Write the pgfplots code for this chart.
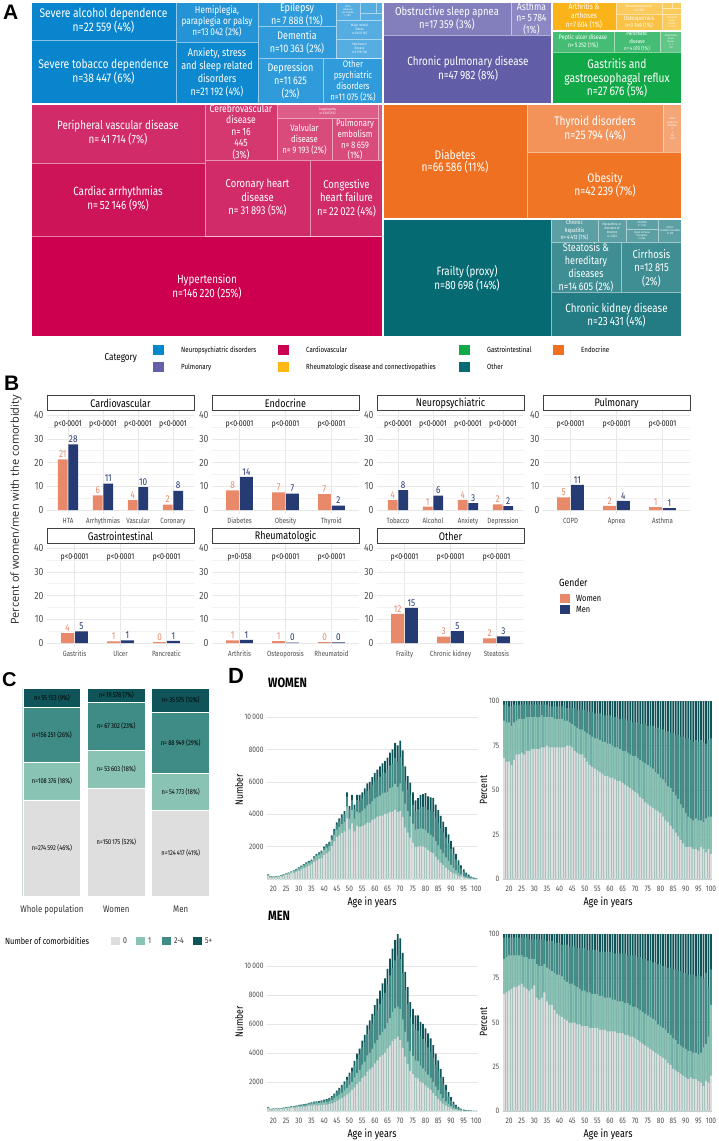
\documentclass[border=0pt]{standalone}
\usepackage{fontspec}
\setmainfont{Fira Sans}[FakeStretch=0.82]
\newfontfamily\labfont{Liberation Sans}
\newfontfamily\osfont{Open Sans}
\usepackage{pgfplots}
\usepackage{pgfplotstable}
\pgfplotsset{compat=1.18}
\pgfplotsset{/pgf/number format/assume math mode=true}
\newcommand\fs[2]{\fontsize{#1}{#2}\selectfont}

\definecolor{cneuro}{HTML}{0088CC}
\definecolor{ccardio}{HTML}{CC0052}
\definecolor{cgastro}{HTML}{12A94A}
\definecolor{cendo}{HTML}{F07020}
\definecolor{cpulm}{HTML}{6360A8}
\definecolor{crheum}{HTML}{FCB814}
\definecolor{cother}{HTML}{066B73}
\definecolor{cwomen}{HTML}{E8896A}
\definecolor{cmen}{HTML}{263A73}
\definecolor{cz}{HTML}{DEDEDE}
\definecolor{co}{HTML}{88C3B4}
\definecolor{ct}{HTML}{3F8B85}
\definecolor{cf}{HTML}{0F5458}
% treemap shades
\definecolor{n1}{HTML}{0985CD}\definecolor{n2}{HTML}{2594D6}\definecolor{n3}{HTML}{0E89CF}
\definecolor{n4}{HTML}{2F9BDA}\definecolor{n5}{HTML}{55ADE1}
\definecolor{k1}{HTML}{CC004E}\definecolor{k2}{HTML}{CE1458}\definecolor{k3}{HTML}{D12C69}
\definecolor{k4}{HTML}{D5376F}\definecolor{k5}{HTML}{D84B7B}\definecolor{k6}{HTML}{DC5E88}
\definecolor{p1}{HTML}{625DA7}\definecolor{p2}{HTML}{837FBD}\definecolor{p3}{HTML}{8C88C3}
\definecolor{r1}{HTML}{FAB41A}\definecolor{r2}{HTML}{FBC248}\definecolor{r3}{HTML}{FCCB5E}
\definecolor{g1}{HTML}{11A847}\definecolor{g2}{HTML}{46BD75}\definecolor{g3}{HTML}{62C689}
\definecolor{e1}{HTML}{EE7020}\definecolor{e2}{HTML}{F07524}\definecolor{e3}{HTML}{F3935A}\definecolor{e4}{HTML}{F5A676}
\definecolor{o1}{HTML}{066A72}\definecolor{o2}{HTML}{237C83}\definecolor{o3}{HTML}{3E8E94}\definecolor{o4}{HTML}{5CA0A5}

\newcommand\tile[5]{\addplot[fill=#1, draw=white, draw opacity=0.5, line width=0.6pt] coordinates {(#2,#3) (#4,#3) (#4,#5) (#2,#5)} -- cycle;}
\newcommand\grp[4]{\addplot[draw=white, line width=2pt] coordinates {(#1,#2) (#3,#2) (#3,#4) (#1,#4)} -- cycle;}
\newcommand\pv[2]{\node[font=\fs{8.5}{9}, text=black!90] at (axis cs:#1,36) {#2};}
% value labels above the women / men bars of category #1
\newcommand\bl[5]{%
  \node[anchor=south, inner sep=1.5pt, text=cwomen, font=\fs{10}{10}] at (axis cs:#1-0.15,#2) {#3};%
  \node[anchor=south, inner sep=1.5pt, text=cmen, font=\fs{10}{10}] at (axis cs:#1+0.15,#4) {#5};}

\pgfplotsset{
 bfac/.style={anchor=south west, scale only axis, width=147pt, height=102.6pt, ymin=-1.5, ymax=41.7,
   xmin=-0.6, xmax=#1, ytick={0,10,20,30,40}, minor ytick={5,15,25,35},
   ymajorgrids, yminorgrids, xmajorgrids,
   major grid style={draw=black!9, line width=0.5pt},
   minor grid style={draw=black!5, line width=0.4pt},
   axis line style={draw=none}, major tick style={draw=none}, minor tick style={draw=none},
   yticklabel style={font=\fs{10.5}{11}, text=black!70},
   xticklabel style={font=\fs{7.5}{8}, text=black!70, yshift=-1pt},
   title style={at={(0.5,1)}, anchor=south, yshift=-6pt, draw=black!75, line width=0.9pt, fill=white,
     minimum width=147pt, minimum height=15pt, inner sep=0pt, font=\fs{11}{11}},
   clip=false},
 wbar/.style={ybar, bar width=0.28, bar shift=-0.15, fill=cwomen, draw=none},
 mbar/.style={ybar, bar width=0.28, bar shift=0.15, fill=cmen, draw=none},
 dax/.style={anchor=south west, scale only axis, xmin=17.5, xmax=100.5, ymin=0,
   xtick={20,25,...,100}, axis line style={draw=none}, major tick style={draw=none},
   scaled y ticks=false, scaled x ticks=false,
   ymajorgrids, major grid style={draw=black!10, line width=0.4pt},
   xticklabel style={font=\fs{8}{8}, text=black!70, yshift=-4pt},
   yticklabel style={font=\fs{8}{8}, text=black!70}, clip=false},
 dbar/.style={ybar, bar width=0.7, bar shift=0pt, draw=none, fill=#1},
 cbar/.style={ybar, bar width=0.9, bar shift=0pt, draw=white, line width=0.8pt, fill=#1}
}

\pgfplotstableread{
age tot f0 f1 f24
18 280 68 89 98
19 160 66 88 98
20 150 66 88 97
21 170 64 86 97
22 200 67 88 98
23 240 70 89 98
24 290 70 90 98
25 340 71 90 98
26 400 70 90 98
27 460 72 91 98
28 530 72 91 98
29 620 73 91 98
30 720 73 91 98
31 820 73 91 98
32 920 73 91 98
33 1020 74 92 98
34 1100 74 91 98
35 1200 75 91 98
36 1400 74 91 97
37 1550 74 91 97
38 1650 74 90 97
39 1750 74 90 97
40 2000 74 90 97
41 2150 74 90 97
42 2300 74 89 97
43 2700 75 89 96
44 3100 75 88 96
45 3500 74 87 96
46 3750 72 86 96
47 4000 71 85 95
48 4200 70 84 95
49 5350 70 84 95
50 4500 68 83 95
51 5200 66 82 94
52 4600 64 81 94
53 5200 63 80 94
54 5200 62 79 93
55 5350 61 79 93
56 5600 60 78 93
57 5900 59 77 92
58 6000 58 77 92
59 6300 58 76 92
60 6550 57 76 92
61 6750 57 75 91
62 6950 56 74 91
63 7150 55 74 91
64 7300 55 73 90
65 7500 54 72 90
66 7800 53 72 90
67 8000 52 71 89
68 8400 51 70 89
69 8250 50 69 88
70 8550 49 69 88
71 7950 48 68 88
72 6950 46 67 87
73 6350 45 66 87
74 5950 43 65 87
75 5350 42 64 86
76 4850 41 63 86
77 5000 40 62 86
78 5200 39 60 85
79 5250 38 59 85
80 5300 37 57 84
81 5100 35 56 84
82 5050 33 54 83
83 5000 32 52 83
84 4600 30 51 82
85 4250 28 49 82
86 3900 26 47 81
87 3550 24 45 81
88 3200 22 42 80
89 2750 20 40 80
90 2350 18 37 79
91 1950 18 35 79
92 1550 18 34 78
93 1150 17 33 77
94 850 17 34 78
95 600 16 33 77
96 400 18 33 78
97 270 17 32 77
98 150 15 34 76
99 90 17 35 78
100 60 14 35 79
}\wdata

\pgfplotstableread{
age tot f0 f1 f24
18 280 66 86 98
19 150 67 87 98
20 160 68 88 98
21 170 69 88 98
22 180 70 88 98
23 200 70 88 98
24 230 71 88 98
25 260 72 88 98
26 290 70 87 98
27 320 69 87 98
28 340 68 86 97
29 370 69 86 97
30 420 71 86 97
31 440 64 83 97
32 470 63 82 97
33 500 64 82 97
34 560 67 83 97
35 600 62 81 96
36 640 60 80 96
37 660 60 79 96
38 690 57 78 95
39 730 55 77 95
40 780 54 77 95
41 820 53 76 94
42 900 52 74 94
43 1030 51 73 94
44 1200 50 72 93
45 1400 50 72 93
46 1600 50 71 93
47 1800 49 70 92
48 2050 49 69 92
49 2350 48 68 92
50 2650 48 68 92
51 3000 48 67 91
52 3450 47 67 91
53 3950 47 66 91
54 4300 47 66 91
55 4850 47 66 91
56 5250 46 65 90
57 5900 46 65 90
58 6250 46 64 90
59 6700 45 64 90
60 7300 45 64 90
61 7750 45 63 90
62 8300 45 63 89
63 8800 44 62 89
64 9150 44 62 89
65 9800 44 62 89
66 10500 43 61 89
67 11200 43 61 88
68 11800 42 60 88
69 12200 42 59 88
70 11900 41 59 88
71 10900 40 58 87
72 9600 39 57 87
73 8550 38 56 86
74 7500 37 55 86
75 7050 36 54 85
76 6600 35 53 85
77 6600 34 52 84
78 6150 33 51 84
79 6000 32 49 83
80 5700 31 48 83
81 5350 30 47 82
82 5000 29 46 82
83 4550 27 44 81
84 3950 26 43 81
85 3500 24 41 80
86 2900 23 40 80
87 2350 22 38 79
88 1800 21 37 79
89 1300 20 36 78
90 950 19 35 78
91 650 18 34 77
92 420 19 34 77
93 280 18 33 77
94 170 18 33 76
95 100 17 32 77
96 60 16 33 76
97 40 14 36 75
98 25 17 38 78
99 15 16 42 70
100 10 20 60 80
}\mdata

\begin{document}
\begin{tikzpicture}[x=1pt,y=1pt, tl/.style={text=white, align=center, inner sep=0pt}]
\useasboundingbox (0,0) rectangle (718,-1141);

% ================= PANEL A : treemap =================
\node[anchor=north west, inner sep=0pt, font=\labfont\bfseries\fs{21}{21}] at (3,-5) {A};
\begin{axis}[at={(31pt,-337pt)}, anchor=south west, scale only axis, width=651pt, height=335pt,
  xmin=31, xmax=682, ymin=2, ymax=337, y dir=reverse, hide axis, clip=false]
% Neuropsychiatric
\tile{n1}{31}{2}{176}{40}
\tile{n1}{31}{40}{176}{103}
\tile{n2}{176}{2}{258}{42}
\tile{n3}{176}{42}{258}{103}
\tile{n4}{258}{2}{336}{26}
\tile{n4}{258}{26}{336}{58}
\tile{n4}{258}{58}{323}{103}
\tile{n4}{323}{58}{383}{103}
\tile{n5}{336}{2}{360}{20}
\tile{n5}{360}{2}{376}{13}
\tile{n5}{376}{2}{383}{13}
\tile{n5}{360}{13}{383}{20}
\tile{n5}{336}{20}{383}{39}
\tile{n5}{336}{39}{383}{58}
% Cardiovascular
\tile{k3}{31}{104}{205}{163}
\tile{k2}{31}{163}{205}{236}
\tile{k1}{31}{236}{383}{337}
\tile{k4}{205}{104}{277}{160}
\tile{k6}{277}{104}{378}{118}
\tile{k5}{277}{118}{332}{160}
\tile{k5}{332}{118}{378}{160}
\tile{k6}{378}{104}{383}{160}
\tile{k3}{205}{160}{310}{236}
\tile{k3}{310}{160}{383}{236}
% Pulmonary
\tile{p2}{383}{2}{511}{35}
\tile{p3}{511}{2}{552}{35}
\tile{p1}{383}{35}{552}{103}
% Rheumatologic
\tile{r1}{552}{2}{616}{31}
\tile{r3}{616}{2}{662}{14}
\tile{r2}{616}{14}{662}{31}
\tile{r3}{662}{2}{672}{8}
\tile{r3}{672}{2}{682}{8}
\tile{r3}{662}{8}{682}{14}
\tile{r3}{662}{14}{682}{31}
% Gastrointestinal
\tile{g2}{552}{31}{614}{52}
\tile{g2}{614}{31}{660}{52}
\tile{g3}{660}{31}{682}{52}
\tile{g1}{552}{52}{682}{103}
% Endocrine
\tile{e1}{383}{104}{527}{219}
\tile{e3}{527}{104}{663}{152}
\tile{e4}{663}{104}{682}{152}
\tile{e2}{527}{152}{682}{219}
% Other
\tile{o1}{383}{219}{551}{337}
\tile{o4}{551}{219}{598}{242}
\tile{o4}{598}{219}{626}{242}
\tile{o4}{626}{219}{658}{229}
\tile{o4}{626}{229}{658}{242}
\tile{o4}{658}{219}{682}{242}
\tile{o3}{551}{242}{621}{292}
\tile{o3}{621}{242}{682}{292}
\tile{o2}{551}{292}{682}{337}
% group borders
\grp{31}{2}{383}{103.5}
\grp{31}{103.5}{383}{337}
\grp{383}{2}{552}{103.5}
\grp{552}{2}{682}{31}
\grp{552}{31}{682}{103.5}
\grp{383}{103.5}{682}{219}
\grp{383}{219}{682}{337}
% labels
\node[tl,font=\fs{12.5}{12.5}] at (axis cs:103.5,21) {Severe alcohol dependence\\n=22\,559 (4\%)};
\node[tl,font=\fs{12.5}{12.5}] at (axis cs:103.5,71.5) {Severe tobacco dependence\\n=38\,447 (6\%)};
\node[tl,font=\fs{10}{11}] at (axis cs:217,21.5) {Hemiplegia,\\paraplegia or palsy\\n=13\,042 (2\%)};
\node[tl,font=\fs{11}{13}] at (axis cs:217,72) {Anxiety, stress\\and sleep related\\disorders\\n=21\,192 (4\%)};
\node[tl,font=\fs{11}{13}] at (axis cs:297,14) {Epilepsy\\n=\,7\,888 (1\%)};
\node[tl,font=\fs{11}{13}] at (axis cs:297,42.5) {Dementia\\n=10\,363 (2\%)};
\node[tl,font=\fs{11}{13}] at (axis cs:290.5,81) {Depression\\n=11\,625\\(2\%)};
\node[tl,font=\fs{9.5}{11}] at (axis cs:353,81.5) {Other\\psychiatric\\disorders\\n=11\,075 (2\%)};
\node[tl,font=\fs{2.6}{3}] at (axis cs:348,11) {Other\\substance\\use disorder\\n=1\,837};
\node[tl,font=\fs{3.4}{4}] at (axis cs:359.5,29.5) {Major mental\\illness\\n=3\,612 (1\%)};
\node[tl,font=\fs{3.4}{4}] at (axis cs:359.5,48.5) {Parkinson's\\disease\\n=3\,739 (1\%)};
\node[tl,font=\fs{12}{12.5}] at (axis cs:118,133) {Peripheral vascular disease\\n=\,41\,714 (7\%)};
\node[tl,font=\fs{12}{12.5}] at (axis cs:118,199) {Cardiac arrhythmias\\n=\,52\,146 (9\%)};
\node[tl,font=\fs{12}{12.5}] at (axis cs:207,286.5) {Hypertension\\n=146\,220 (25\%)};
\node[tl,font=\fs{10.5}{11.5}] at (axis cs:241,132) {Cerebrovascular\\disease\\n=\,16\\445\\(3\%)};
\node[tl,font=\fs{3.4}{4}] at (axis cs:327.5,111) {Coagulopathy\\n=\,6\,025 (1\%)};
\node[tl,font=\fs{9.5}{11}] at (axis cs:304.5,139.5) {Valvular\\disease\\n=\,9\,193 (2\%)};
\node[tl,font=\fs{9.5}{10.7}] at (axis cs:355,140) {Pulmonary\\embolism\\n=\,8\,659\\(1\%)};
\node[tl,font=\fs{11.5}{13.5}] at (axis cs:257.5,198) {Coronary heart\\disease\\n=\,31\,893 (5\%)};
\node[tl,font=\fs{11.5}{13.5}] at (axis cs:346.5,198) {Congestive\\heart failure\\n=\,22\,022 (4\%)};
\node[tl,font=\fs{11.5}{13}] at (axis cs:447,18.5) {Obstructive sleep apnea\\n=17\,359 (3\%)};
\node[tl,font=\fs{10.5}{11.5}] at (axis cs:531.5,18.5) {Asthma\\n=\,5\,784\\(1\%)};
\node[tl,font=\fs{12}{12.5}] at (axis cs:468,69) {Chronic pulmonary disease\\n=47\,982 (8\%)};
\node[tl,font=\fs{8}{9}] at (axis cs:584,16) {Arthritis \&\\arthoses\\n=7\,604 (1\%)};
\node[tl,font=\fs{3.4}{4}] at (axis cs:639,8) {Rheumatoid arthritis\\n=\,2\,329};
\node[tl,font=\fs{6.2}{7.5}] at (axis cs:639,22) {Osteoporosis\\n=3\,149 (1\%)};
\node[tl,font=\fs{2.5}{3}] at (axis cs:672,22.5) {Connective\\tissue\\disease\\n=\,1\,026};
\node[tl,font=\fs{6.5}{8.5}] at (axis cs:583,41.5) {Peptic ulcer disease\\n=\,5\,252 (1\%)};
\node[tl,font=\fs{5.5}{7.5}] at (axis cs:637,41.5) {Pancreatic\\disease\\n=\,4\,070 (1\%)};
\node[tl,font=\fs{2.5}{3}] at (axis cs:671,41.5) {Inflammatory\\bowel\\disease\\n=\,1\\591};
\node[tl,font=\fs{12.5}{13.5}] at (axis cs:617,78.5) {Gastritis and\\gastroesophagal reflux\\n=27\,676 (5\%)};
\node[tl,font=\fs{12.5}{12.7}] at (axis cs:455,161.5) {Diabetes\\n=66\,586 (11\%)};
\node[tl,font=\fs{12.5}{12.7}] at (axis cs:595,128.5) {Thyroid disorders\\n=25\,794 (4\%)};
\node[tl,font=\fs{2.8}{3.3}] at (axis cs:672.5,129) {Other\\endocrine\\disorders\\n=\\3\\676\\(1\%)};
\node[tl,font=\fs{12.5}{13.5}] at (axis cs:605,185) {Obesity\\n=42\,239 (7\%)};
\node[tl,font=\fs{12}{12.5}] at (axis cs:467,278) {Frailty (proxy)\\n=80\,698 (14\%)};
\node[tl,font=\fs{6}{7.5}] at (axis cs:574.5,230.5) {Chronic\\hepatitis\\n=\,4\,413 (1\%)};
\node[tl,font=\fs{3.4}{4}] at (axis cs:612,230.5) {Myopathies, or\\disorders of\\muscles\\n=\,2\,822};
\node[tl,font=\fs{2.8}{3.3}] at (axis cs:642,224) {HIV/AIDS\\n=\,1\,484};
\node[tl,font=\fs{2.8}{3.3}] at (axis cs:642,235.5) {Organ or tissue\\transplant\\n=\,846};
\node[tl,font=\fs{2.8}{3.3}] at (axis cs:670,230.5) {Inborn\\metabolic disorders\\n=\,339};
\node[tl,font=\fs{11}{13}] at (axis cs:586,267.5) {Steatosis \&\\hereditary\\diseases\\n=14\,605 (2\%)};
\node[tl,font=\fs{11.5}{13.5}] at (axis cs:651.5,268) {Cirrhosis\\n=12\,815\\(2\%)};
\node[tl,font=\fs{12}{12.7}] at (axis cs:616.5,315) {Chronic kidney disease\\n=23\,431 (4\%)};
\end{axis}

% legend A
\node[anchor=west, font=\fs{10}{10}] at (101,-358) {Category};
\foreach \c/\x/\y/\t in {cneuro/153/350/Neuropsychiatric disorders, ccardio/278/350/Cardiovascular,
   cgastro/459/350/Gastrointestinal, cendo/553/350/Endocrine, cpulm/153/367/Pulmonary,
   crheum/278/367/Rheumatologic disease and connectivopathies, cother/459/367/Other}{
  \node[anchor=west, inner sep=0pt] at (\x,-\y) {\color{\c}\rule{10.5pt}{10.5pt}};
  \node[anchor=west, inner sep=0pt, font=\fs{7.5}{8}] at (\x+28,-\y) {\t};
}

% ================= PANEL B =================
\node[anchor=north west, inner sep=0pt, font=\labfont\bfseries\fs{21}{21}] at (4,-376) {B};
\node[rotate=90, font=\osfont\fs{11}{11}, text=black!85] at (16,-510) {Percent of women/men with the comorbidity};

\begin{axis}[bfac=3.6, at={(47pt,-513.6pt)}, title={Cardiovascular}, xtick={0,1,2,3}, xticklabels={HTA,Arrhythmias,Vascular,Coronary}]
\addplot[wbar] coordinates {(0,21.3) (1,6.2) (2,4.2) (3,2.3)};
\addplot[mbar] coordinates {(0,27.6) (1,11.1) (2,9.6) (3,8.1)};
\bl{0}{21.3}{21}{27.6}{28}\bl{1}{6.2}{6}{11.1}{11}\bl{2}{4.2}{4}{9.6}{10}\bl{3}{2.3}{2}{8.1}{8}
\pv{0}{p<0·0001}\pv{1}{p<0·0001}\pv{2}{p<0·0001}\pv{3}{p<0·0001}
\end{axis}
\begin{axis}[bfac=2.6, at={(212pt,-513.6pt)}, title={Endocrine}, xtick={0,1,2}, xticklabels={Diabetes,Obesity,Thyroid}]
\addplot[wbar] coordinates {(0,8.3) (1,7.4) (2,6.7)};
\addplot[mbar] coordinates {(0,14.0) (1,6.9) (2,1.9)};
\bl{0}{8.3}{8}{14.0}{14}\bl{1}{7.4}{7}{6.9}{7}\bl{2}{6.7}{7}{1.9}{2}
\pv{0}{p<0·0001}\pv{1}{p<0·0001}\pv{2}{p<0·0001}
\end{axis}
\begin{axis}[bfac=3.6, at={(377pt,-513.6pt)}, title={Neuropsychiatric}, xtick={0,1,2,3}, xticklabels={Tobacco,Alcohol,Anxiety,Depression}]
\addplot[wbar] coordinates {(0,4.2) (1,1.4) (2,4.3) (3,2.4)};
\addplot[mbar] coordinates {(0,8.4) (1,6.1) (2,2.9) (3,1.6)};
\bl{0}{4.2}{4}{8.4}{8}\bl{1}{1.4}{1}{6.1}{6}\bl{2}{4.3}{4}{2.9}{3}\bl{3}{2.4}{2}{1.6}{2}
\pv{0}{p<0·0001}\pv{1}{p<0·0001}\pv{2}{p<0·0001}\pv{3}{p<0·0001}
\end{axis}
\begin{axis}[bfac=2.6, at={(543pt,-513.6pt)}, title={Pulmonary}, xtick={0,1,2}, xticklabels={COPD,Apnea,Asthma}]
\addplot[wbar] coordinates {(0,5.3) (1,1.8) (2,1.2)};
\addplot[mbar] coordinates {(0,10.6) (1,3.9) (2,0.8)};
\bl{0}{5.3}{5}{10.6}{11}\bl{1}{1.8}{2}{3.9}{4}\bl{2}{1.2}{1}{0.8}{1}
\pv{0}{p<0·0001}\pv{1}{p<0·0001}\pv{2}{p<0·0001}
\end{axis}
\begin{axis}[bfac=2.6, at={(47pt,-646.6pt)}, title={Gastrointestinal}, xtick={0,1,2}, xticklabels={Gastritis,Ulcer,Pancreatic}]
\addplot[wbar] coordinates {(0,4.2) (1,0.7) (2,0.4)};
\addplot[mbar] coordinates {(0,4.9) (1,1.1) (2,0.9)};
\bl{0}{4.2}{4}{4.9}{5}\bl{1}{0.7}{1}{1.1}{1}\bl{2}{0.4}{0}{0.9}{1}
\pv{0}{p<0·0001}\pv{1}{p<0·0001}\pv{2}{p<0·0001}
\end{axis}
\begin{axis}[bfac=2.6, at={(212pt,-646.6pt)}, title={Rheumatologic}, xtick={0,1,2}, xticklabels={Arthritis,Osteoporosis,Rheumatoid}]
\addplot[wbar] coordinates {(0,1.1) (1,0.8) (2,0.4)};
\addplot[mbar] coordinates {(0,1.3) (1,0.2) (2,0.3)};
\bl{0}{1.1}{1}{1.3}{1}\bl{1}{0.8}{1}{0.2}{0}\bl{2}{0.4}{0}{0.3}{0}
\pv{0}{p=0·058}\pv{1}{p<0·0001}\pv{2}{p<0·0001}
\end{axis}
\begin{axis}[bfac=2.6, at={(377pt,-646.6pt)}, title={Other}, xtick={0,1,2}, xticklabels={Frailty,Chronic kidney,Steatosis}]
\addplot[wbar] coordinates {(0,12.3) (1,2.7) (2,2.0)};
\addplot[mbar] coordinates {(0,14.8) (1,5.0) (2,2.8)};
\bl{0}{12.3}{12}{14.8}{15}\bl{1}{2.7}{3}{5.0}{5}\bl{2}{2.0}{2}{2.8}{3}
\pv{0}{p<0·0001}\pv{1}{p<0·0001}\pv{2}{p<0·0001}
\end{axis}
% Gender legend
\node[anchor=west, inner sep=0pt, font=\fs{10.5}{11}] at (559,-583) {Gender};
\node[anchor=west, inner sep=0pt] at (560,-598.5) {\color{cwomen}\rule{10pt}{9pt}};
\node[anchor=west, inner sep=0pt, font=\fs{9}{9}] at (576,-598.5) {Women};
\node[anchor=west, inner sep=0pt] at (560,-609) {\color{cmen}\rule{10pt}{9pt}};
\node[anchor=west, inner sep=0pt, font=\fs{9}{9}] at (576,-609) {Men};

% ================= PANEL C =================
\node[anchor=north west, inner sep=0pt, font=\labfont\bfseries\fs{20}{20}] at (2,-672) {C};
\begin{axis}[at={(13.3pt,-896pt)}, anchor=south west, scale only axis, width=206pt, height=208pt,
  xmin=-0.6, xmax=2.6, ymin=0, ymax=100,
  axis line style={draw=none}, major tick style={draw=none}, ytick=\empty,
  xtick={0,1,2}, xticklabels={Whole population,Women,Men},
  xticklabel style={font=\fs{9.5}{10}, text=black!80, yshift=-6pt}, clip=false]
% cumulative shares (%): 0 | 0-1 | 0-4 | all
\addplot[cbar=cf] coordinates {(0,100) (1,100) (2,100)};
\addplot[cbar=ct] coordinates {(0,90.72) (1,93.26) (2,88.29)};
\addplot[cbar=co] coordinates {(0,64.43) (1,70.11) (2,59.00)};
\addplot[cbar=cz] coordinates {(0,46.20) (1,51.67) (2,40.97)};
\node[font=\fs{7}{7}] at (axis cs:0,23.10) {n=274\,592 (46\%)};
\node[font=\fs{7}{7}] at (axis cs:0,55.32) {n=108\,376 (18\%)};
\node[font=\fs{7}{7}] at (axis cs:0,77.58) {n=156\,251 (26\%)};
\node[font=\fs{7}{7}] at (axis cs:0,95.36) {n=\,55\,153 (9\%)};
\node[font=\fs{7}{7}] at (axis cs:1,25.83) {n=150\,175 (52\%)};
\node[font=\fs{7}{7}] at (axis cs:1,60.89) {n=\,53\,603 (18\%)};
\node[font=\fs{7}{7}] at (axis cs:1,81.69) {n=\,67\,302 (23\%)};
\node[font=\fs{7}{7}] at (axis cs:1,96.63) {n=\,19\,578 (7\%)};
\node[font=\fs{7}{7}] at (axis cs:2,20.48) {n=124\,417 (41\%)};
\node[font=\fs{7}{7}] at (axis cs:2,49.98) {n=\,54\,773 (18\%)};
\node[font=\fs{7}{7}] at (axis cs:2,73.65) {n=\,88\,949 (29\%)};
\node[font=\fs{7}{7}] at (axis cs:2,94.14) {n=\,35\,575 (12\%)};
\end{axis}
\node[anchor=west, inner sep=0pt, font=\fs{9}{9}] at (5,-941) {Number of comorbidities};
\foreach \c/\x/\t in {cz/111/0, co/136/1, ct/162/2-4, cf/193/5+}{
  \node[anchor=west, inner sep=0pt] at (\x,-941) {\color{\c}\rule{8.5pt}{8.5pt}};
  \node[anchor=west, inner sep=0pt, font=\fs{8.5}{9}, text=black!80] at (\x+12,-941) {\t};
}

% ================= PANEL D =================
\node[anchor=north west, inner sep=0pt, font=\labfont\bfseries\fs{22}{22}] at (228,-668) {D};
\node[anchor=west, inner sep=0pt, font=\bfseries\fs{13.5}{14}] at (268,-683) {WOMEN};
\node[anchor=west, inner sep=0pt, font=\bfseries\fs{13.5}{14}] at (268,-916) {MEN};

\begin{axis}[dax, at={(267pt,-879pt)}, width=210.6pt, height=170pt, ymax=10500,
  ytick={2000,4000,6000,8000,10000}, yticklabels={2000,4000,6000,8000,10\,000}]
\addplot[dbar=cf] table[x=age, y=tot] {\wdata};
\addplot[dbar=ct] table[x=age, y expr=\thisrow{tot}*\thisrow{f24}/100] {\wdata};
\addplot[dbar=co] table[x=age, y expr=\thisrow{tot}*\thisrow{f1}/100] {\wdata};
\addplot[dbar=cz] table[x=age, y expr=\thisrow{tot}*\thisrow{f0}/100] {\wdata};
\end{axis}
\begin{axis}[dax, at={(502.7pt,-879pt)}, width=209.6pt, height=178pt, ymax=100,
  ytick={0,25,50,75,100}]
\addplot[dbar=cf] table[x=age, y expr=100] {\wdata};
\addplot[dbar=ct] table[x=age, y=f24] {\wdata};
\addplot[dbar=co] table[x=age, y=f1] {\wdata};
\addplot[dbar=cz] table[x=age, y=f0] {\wdata};
\end{axis}
\begin{axis}[dax, at={(267pt,-1111pt)}, width=210.6pt, height=178.4pt, ymax=12300,
  ytick={2000,4000,6000,8000,10000}, yticklabels={2000,4000,6000,8000,10\,000}]
\addplot[dbar=cf] table[x=age, y=tot] {\mdata};
\addplot[dbar=ct] table[x=age, y expr=\thisrow{tot}*\thisrow{f24}/100] {\mdata};
\addplot[dbar=co] table[x=age, y expr=\thisrow{tot}*\thisrow{f1}/100] {\mdata};
\addplot[dbar=cz] table[x=age, y expr=\thisrow{tot}*\thisrow{f0}/100] {\mdata};
\end{axis}
\begin{axis}[dax, at={(502.7pt,-1111pt)}, width=209.6pt, height=177pt, ymax=100,
  ytick={0,25,50,75,100}]
\addplot[dbar=cf] table[x=age, y expr=100] {\mdata};
\addplot[dbar=ct] table[x=age, y=f24] {\mdata};
\addplot[dbar=co] table[x=age, y=f1] {\mdata};
\addplot[dbar=cz] table[x=age, y=f0] {\mdata};
\end{axis}
\foreach \y in {902,1134}{
  \node[font=\fs{11}{11}] at (372,-\y) {Age in years};
  \node[font=\fs{11}{11}] at (608,-\y) {Age in years};
}
\node[rotate=90, font=\fs{10.5}{11}] at (239,-790) {Number};
\node[rotate=90, font=\fs{10.5}{11}] at (239,-1022) {Number};
\node[rotate=90, font=\fs{10.5}{11}] at (483.5,-790) {Percent};
\node[rotate=90, font=\fs{10.5}{11}] at (483.5,-1022) {Percent};
\end{tikzpicture}
\end{document}
